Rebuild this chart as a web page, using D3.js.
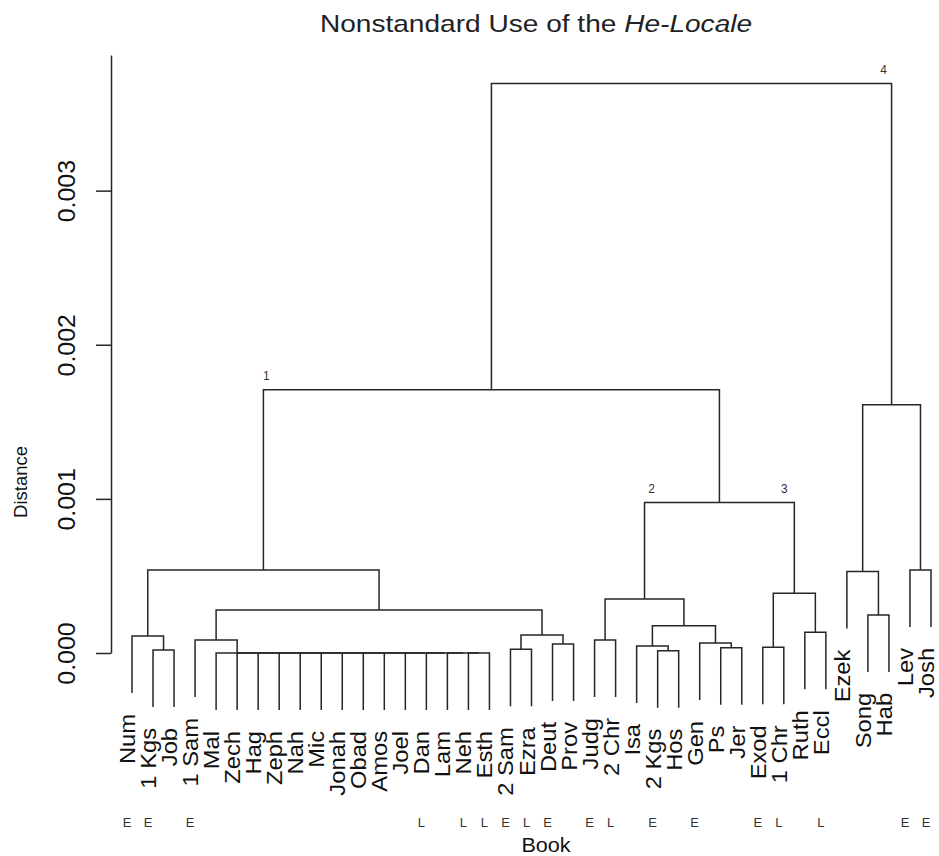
<!DOCTYPE html>
<html>
<head>
<meta charset="utf-8">
<script src="https://cdn.jsdelivr.net/npm/d3@7"></script>
<style>
  html, body { margin: 0; padding: 0; background: #fff; }
  svg { display: block; font-family: "Liberation Sans", Arial, Helvetica, sans-serif; }
</style>
</head>
<body>
<script>
// ---------------- DATA ----------------
const leaves = ["Num","1 Kgs","Job","1 Sam","Mal","Zech","Hag","Zeph","Nah","Mic","Jonah","Obad","Amos","Joel",
  "Dan","Lam","Neh","Esth","2 Sam","Ezra","Deut","Prov","Judg","2 Chr","Isa","2 Kgs","Hos","Gen","Ps","Jer",
  "Exod","1 Chr","Ruth","Eccl","Ezek","Song","Hab","Lev","Josh"];

// Early / Late marker under each book
const era = ["E","E","","E","","","","","","","","","","","L","","L","L","E","L","E","","E","L","","E","","E","","",
  "E","L","","L","","","","E","E"];

// merges: [name, left child, right child, height]
const merges = [
  ["F1","Neh","Esth",0],["F2","Lam","F1",0],["F3","Dan","F2",0],["F4","Joel","F3",0],["F5","Amos","F4",0],
  ["F6","Obad","F5",0],["F7","Jonah","F6",0],["F8","Mic","F7",0],["F9","Nah","F8",0],["F10","Zeph","F9",0],
  ["F11","Hag","F10",0],["F12","Zech","F11",0],["FLAT","Mal","F12",0],
  ["K1","1 Kgs","Job",0.0000195],
  ["K2","Num","K1",0.000110],
  ["S1","1 Sam","FLAT",0.0000844],
  ["E1","2 Sam","Ezra",0.0000240],
  ["E2","Deut","Prov",0.0000584],
  ["E3","E1","E2",0.000117],
  ["D","S1","E3",0.000279],
  ["C","K2","D",0.000539],
  ["J1","Judg","2 Chr",0.0000844],
  ["H1","2 Kgs","Hos",0.0000149],
  ["H2","Isa","H1",0.0000455],
  ["G1","Ps","Jer",0.0000344],
  ["G2","Gen","G1",0.0000649],
  ["H3","H2","G2",0.000177],
  ["N2","J1","H3",0.000351],
  ["R1","Exod","1 Chr",0.0000370],
  ["R2","Ruth","Eccl",0.000134],
  ["N3","R1","R2",0.000388],
  ["N23","N2","N3",0.000976],
  ["N1","C","N23",0.001708],
  ["Z1","Song","Hab",0.000247],
  ["Z2","Ezek","Z1",0.000528],
  ["L1","Lev","Josh",0.000539],
  ["RC","Z2","L1",0.00161],
  ["ROOT","N1","RC",0.003695]
];

const yTicks = [0, 0.001, 0.002, 0.003];
const yTickLabels = ["0.000","0.001","0.002","0.003"];

// cluster annotations: label, node, which end of the node's bar
const clusterLabels = [
  {label:"1", node:"N1", side:"left"},
  {label:"2", node:"N23", side:"left"},
  {label:"3", node:"N23", side:"right"},
  {label:"4", node:"ROOT", side:"right"}
];

// ---------------- CHART ----------------
const W = 939, H = 856;
const ink = "#262626";
const svg = d3.select("body").append("svg").attr("width", W).attr("height", H);

const x = d3.scaleLinear().domain([0, leaves.length - 1]).range([132, 931]);
const y = d3.scaleLinear().domain([0, 0.00388]).range([653, 55]);

const maxH = d3.max(merges, d => d[3]);
const hang = 0.1 * maxH;

// build node table
const nodes = new Map();
leaves.forEach((name, i) => nodes.set(name, {leaf: true, pos: i, h: null, parentH: null}));
merges.forEach(([name, a, b, h]) => {
  const A = nodes.get(a), B = nodes.get(b);
  A.parentH = h; B.parentH = h;
  nodes.set(name, {leaf: false, pos: (A.pos + B.pos) / 2, h: h, left: A, right: B});
});

// draw links
const g = svg.append("g");
merges.forEach(([name, a, b, h]) => {
  const A = nodes.get(a), B = nodes.get(b);
  const ya = A.leaf ? h - hang : A.h;
  const yb = B.leaf ? h - hang : B.h;
  const p = d3.path();
  p.moveTo(x(A.pos), y(ya));
  p.lineTo(x(A.pos), y(h));
  p.lineTo(x(B.pos), y(h));
  p.lineTo(x(B.pos), y(yb));
  g.append("path").attr("d", p.toString())
    .attr("fill", "none").attr("stroke", ink).attr("stroke-width", 1.5);
});

// leaf labels
leaves.forEach((name, i) => {
  const n = nodes.get(name);
  const yy = y(n.parentH - hang) + 21;
  svg.append("text")
    .attr("transform", `translate(${x(i) + 3},${yy}) rotate(-90) scale(1.08,1)`)
    .attr("text-anchor", "end")
    .attr("font-size", 22)
    .attr("fill", "#111")
    .text(name);
});

// era markers
era.forEach((e, i) => {
  if (!e) return;
  svg.append("text")
    .attr("x", x(i) - 5).attr("y", 827)
    .attr("text-anchor", "middle")
    .attr("font-size", 13)
    .attr("fill", "#333")
    .text(e);
});

// y axis
const axis = d3.axisLeft(y).tickValues(yTicks).tickSize(15).tickSizeOuter(0)
  .tickFormat((d, i) => yTickLabels[i]);
const ag = svg.append("g").attr("transform", "translate(111,0)").call(axis);
ag.select(".domain").attr("stroke", ink).attr("stroke-width", 1.5);
ag.selectAll(".tick line").attr("stroke", ink).attr("stroke-width", 1.5);
ag.selectAll(".tick text")
  .attr("x", null).attr("dy", null)
  .attr("transform", "translate(-36,0) rotate(-90) scale(1.06,1)")
  .attr("text-anchor", "middle")
  .attr("font-size", 23.5)
  .attr("font-family", "Liberation Sans, Arial, sans-serif")
  .attr("fill", "#111");

// axis titles
svg.append("text")
  .attr("transform", "translate(27,482) rotate(-90)")
  .attr("text-anchor", "middle").attr("font-size", 18.5).attr("fill", "#111")
  .text("Distance");
svg.append("text")
  .attr("transform", "translate(546,852) scale(1.08,1)")
  .attr("text-anchor", "middle").attr("font-size", 20).attr("fill", "#111")
  .text("Book");

// title
const t = svg.append("text")
  .attr("transform", "translate(536,32) scale(1.17,1)")
  .attr("text-anchor", "middle").attr("font-size", 24).attr("fill", "#222");
t.append("tspan").text("Nonstandard Use of the ");
t.append("tspan").attr("font-style", "italic").text("He-Locale");

// cluster labels
clusterLabels.forEach(c => {
  const n = nodes.get(c.node);
  const ax = c.side === "left" ? n.left.pos : n.right.pos;
  const dx = c.node === "N1" ? 3 : c.node === "N23" ? (c.side === "left" ? 7 : -10) : -8;
  svg.append("text")
    .attr("x", x(ax) + dx).attr("y", y(n.h) - 10)
    .attr("text-anchor", "middle").attr("font-size", 12).attr("fill", "#333")
    .text(c.label);
});
</script>
</body>
</html>
